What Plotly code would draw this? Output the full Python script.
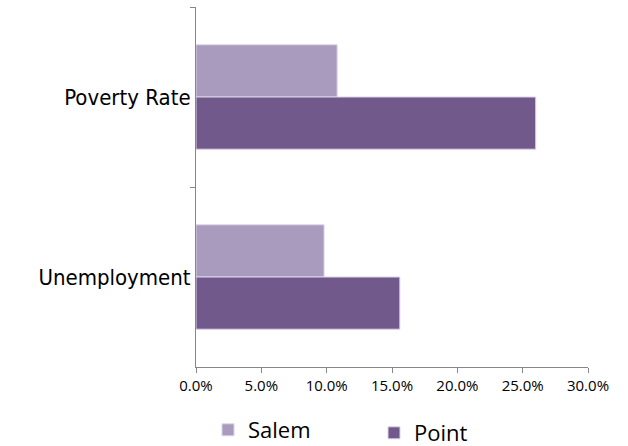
import plotly.graph_objects as go

# Categories (top to bottom) and series values, in percent
categories = ["Poverty Rate", "Unemployment"]
salem = [10.8, 9.8]
point = [26.0, 15.6]
x_ticks = [0, 5, 10, 15, 20, 25, 30]
x_tick_labels = ["0.0%", "5.0%", "10.0%", "15.0%", "20.0%", "25.0%", "30.0%"]

SALEM_COLOR = "#A99BBD"
POINT_COLOR = "#71598B"
EDGE_COLOR = "#DCD4E8"
AXIS_COLOR = "#868686"
W, H = 628, 446

fig = go.Figure()
fig.add_trace(go.Bar(
    y=categories, x=salem, name="Salem", orientation="h",
    marker=dict(color=SALEM_COLOR, line=dict(color=EDGE_COLOR, width=1)),
    legend="legend",
))
fig.add_trace(go.Bar(
    y=categories, x=point, name="Point", orientation="h",
    marker=dict(color=POINT_COLOR, line=dict(color=EDGE_COLOR, width=1)),
    legend="legend2",
))

legend_font = dict(size=22, family="Open Sans, sans-serif", color="#000000")
fig.update_layout(
    width=W, height=H,
    showlegend=True,
    margin=dict(l=196, r=40, t=7, b=79, autoexpand=False),
    paper_bgcolor="white", plot_bgcolor="white",
    barmode="group", bargap=0.42, bargroupgap=0,
    font=dict(family="Open Sans, sans-serif", color="#000000"),
    legend=dict(
        orientation="h", xref="container", yref="container",
        x=208 / W, xanchor="left", y=1 - 409 / H, yanchor="top",
        font=legend_font, bgcolor="rgba(0,0,0,0)", borderwidth=0,
        visible=True,
    ),
    legend2=dict(
        orientation="h", xref="container", yref="container",
        x=374 / W, xanchor="left", y=1 - 412 / H, yanchor="top",
        font=legend_font, bgcolor="rgba(0,0,0,0)", borderwidth=0,
        visible=True,
    ),
)

fig.update_xaxes(
    range=[0, 30], tickvals=x_ticks, ticktext=x_tick_labels,
    showgrid=False, zeroline=False,
    showline=True, linecolor=AXIS_COLOR, linewidth=1,
    ticks="outside", ticklen=5, tickcolor=AXIS_COLOR, tickwidth=1,
    tickfont=dict(size=15, family="Open Sans, sans-serif"),
    automargin=False,
)
fig.update_yaxes(
    autorange="reversed", showgrid=False, zeroline=False,
    showline=True, linecolor=AXIS_COLOR, linewidth=1,
    ticks="outside", tickson="boundaries", ticklen=5,
    tickcolor=AXIS_COLOR, tickwidth=1,
    tickfont=dict(size=22, family="DejaVu Sans Condensed, Liberation Sans, sans-serif"),
    automargin=False,
)

fig.write_html("out.html")
